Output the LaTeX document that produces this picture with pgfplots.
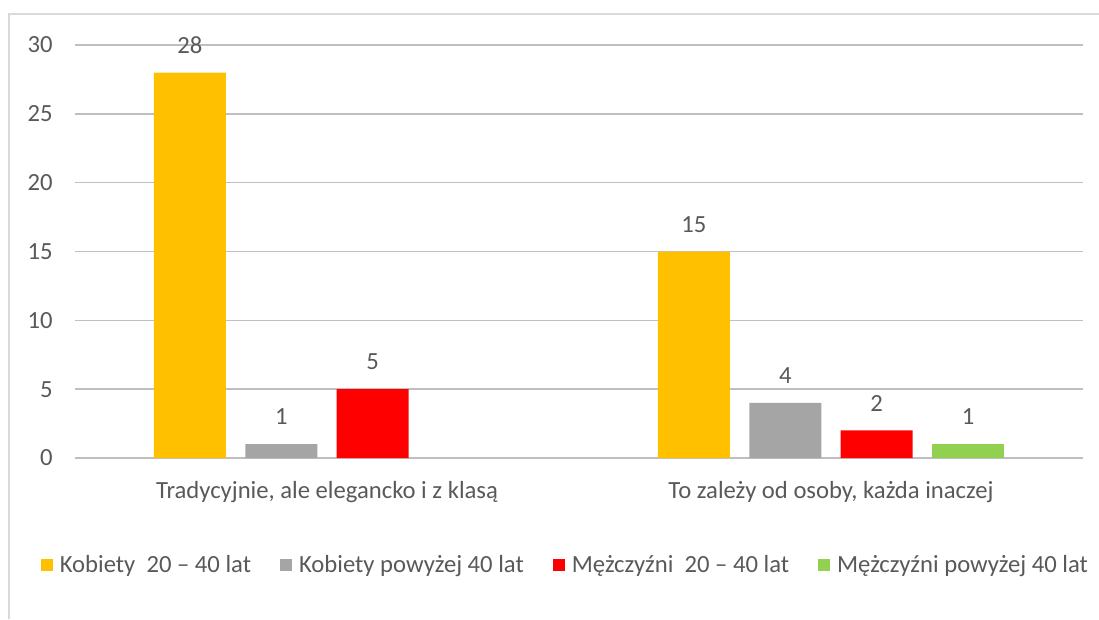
\documentclass[border=0pt]{standalone}
\usepackage{pgfplots}
\pgfplotsset{compat=1.18}
\usepackage{fontspec}
\setmainfont{Carlito}
\definecolor{cy}{HTML}{FFC000}
\definecolor{cg}{HTML}{A5A5A5}
\definecolor{cr}{HTML}{FF0000}
\definecolor{cgr}{HTML}{92D050}
\definecolor{txt}{HTML}{595959}
\definecolor{grid}{HTML}{D9D9D9}
\begin{document}
\begin{tikzpicture}
\path[use as bounding box] (0,0) rectangle (824.25pt,464.25pt);
\draw[grid, line width=1.2pt] (6.75pt,0) -- (6.75pt,453.75pt) -- (824.25pt,453.75pt);
\begin{axis}[
  at={(56.25pt,120.75pt)}, anchor=south west,
  scale only axis, width=756pt, height=309.75pt,
  xmin=-0.5, xmax=1.5, ymin=0, ymax=30,
  axis line style={draw=none},
  major tick length=0pt, tick style={draw=none},
  ytick={0,5,...,30},
  ymajorgrids, xmajorgrids=false, grid style={grid, line width=1.1pt},
  xtick={0,1},
  xticklabels={{Tradycyjnie, ale elegancko i z klasą}, {To zależy od osoby, każda inaczej}},
  font=\fontsize{18.5}{22}\selectfont,
  /pgf/number format/assume math mode=true,
  ticklabel style={text=txt},
  yticklabel style={anchor=east, inner sep=0pt, xshift=-16.5pt},
  xticklabel style={anchor=base, inner sep=0pt, yshift=-30pt},
  ybar, bar width=54pt,
  nodes near coords,
  every node near coord/.append style={anchor=base, inner sep=0pt, yshift=14.5pt, text=txt, font=\fontsize{18.5}{22}\selectfont},
  legend columns=4,
  legend style={draw=none, fill=none, at={(0.487,-0.259)}, anchor=center,
    text=txt, font=\fontsize{18.5}{22}\selectfont,
    /tikz/every even column/.append style={column sep=20pt},
    /tikz/every odd column/.append style={column sep=3pt}},
  legend image code/.code={\fill[#1] (0pt,-4.5pt) rectangle (9pt,4.5pt);},
]
\addplot[draw=none, fill=cy, bar shift=-102.9pt] coordinates {(0,28) (1,15)};
\addlegendentry{Kobiety\ \ 20 – 40 lat}
\addplot[draw=none, fill=cg, bar shift=-34.3pt] coordinates {(0,1) (1,4)};
\addlegendentry{Kobiety powyżej 40 lat}
\addplot[draw=none, fill=cr, bar shift=34.3pt] coordinates {(0,5) (1,2)};
\addlegendentry{Mężczyźni\ \ 20 – 40 lat}
\addplot[draw=none, fill=cgr, bar shift=102.9pt] coordinates {(1,1)};
\addlegendentry{Mężczyźni powyżej 40 lat}
\end{axis}
\end{tikzpicture}
\end{document}
